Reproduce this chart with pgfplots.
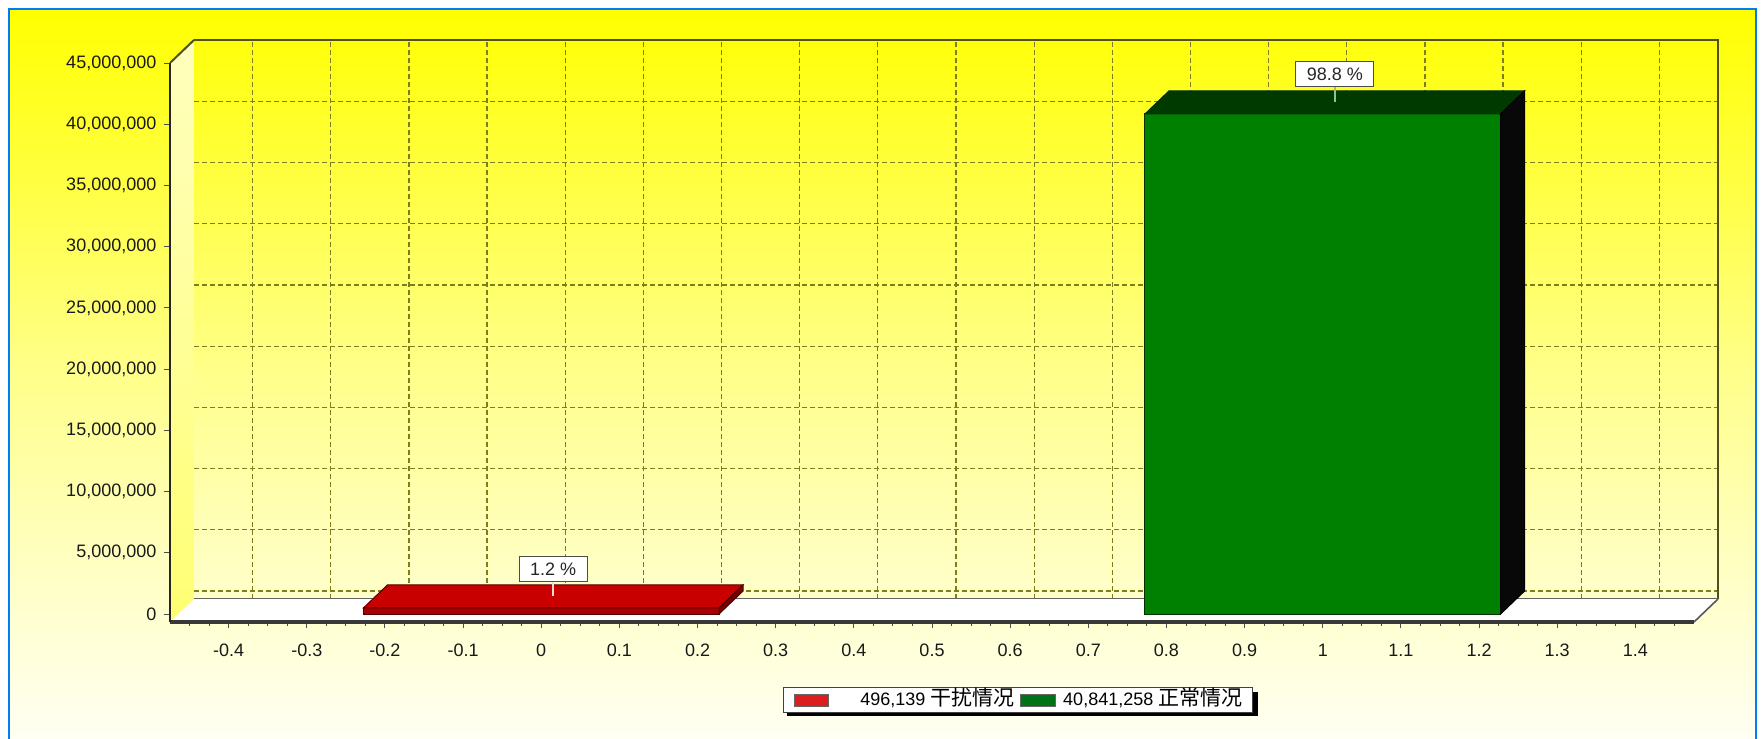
\documentclass[border=0pt]{standalone}
\usepackage{fontspec}
\setmainfont{Liberation Sans}
\newfontfamily\cjk{Noto Sans CJK SC}
\usepackage{pgfplots}
\pgfplotsset{compat=1.18}

\definecolor{gfront}{RGB}{0,128,0}
\definecolor{gtop}{RGB}{0,58,0}
\definecolor{gside}{RGB}{8,8,8}
\definecolor{rfront}{RGB}{170,0,0}
\definecolor{rtop}{RGB}{200,0,0}
\definecolor{rside}{RGB}{120,0,0}
\definecolor{legred}{RGB}{220,30,30}
\definecolor{leggreen}{RGB}{0,115,20}
\definecolor{gridc}{RGB}{125,125,25}
\definecolor{edgec}{RGB}{80,80,30}
\definecolor{frameblue}{RGB}{0,125,245}
\definecolor{bgmid}{RGB}{255,255,140}
\definecolor{bgbot}{RGB}{255,255,245}
\definecolor{walltop}{RGB}{255,255,190}
\definecolor{wallbot}{RGB}{255,255,115}
\definecolor{conred}{RGB}{255,215,215}
\definecolor{congreen}{RGB}{150,190,150}

\begin{document}
\begin{tikzpicture}[x=1pt,y=1pt]
\useasboundingbox (0,0) rectangle (881,369.5);
\fill[white] (0,0) rectangle (881,369.5);
\shade[top color=yellow, bottom color=bgbot, middle color=bgmid] (4.5,-3) rectangle (878,365);
\draw[frameblue, line width=1.4pt] (4.5,-5) -- (4.5,365) -- (878,365) -- (878,-5);
% legend shadow (legend box itself is drawn by the front axis)
\fill[black] (393.5,11.3) rectangle (628.8,23.5);

% back wall with grid
\begin{axis}[
  at={(97pt,70pt)}, anchor=south west,
  width=762pt, height=279.5pt, scale only axis,
  xmin=-0.475, xmax=1.475, ymin=-650000, ymax=45000000,
  xtick={-0.4,-0.3,-0.2,-0.1,0,0.1,0.2,0.3,0.4,0.5,0.6,0.7,0.8,0.9,1,1.1,1.2,1.3,1.4},
  ytick={0,5000000,10000000,15000000,20000000,25000000,30000000,35000000,40000000,45000000},
  xticklabels={}, yticklabels={},
  scaled ticks=false,
  major tick length=0pt,
  grid=major,
  major grid style={gridc, line width=0.6pt, dash pattern=on 2.5pt off 1.5pt},
  axis line style={draw=none},
  clip=false,
]
\draw[edgec, line width=1pt] (rel axis cs:0,1) -- (rel axis cs:1,1) -- (rel axis cs:1,0);
\draw[black!70, line width=0.8pt] (rel axis cs:0,0) -- (rel axis cs:1,0);
\end{axis}

% front axis with floor, wall and bars
\begin{axis}[
  at={(85pt,58.5pt)}, anchor=south west,
  width=762pt, height=279.5pt, scale only axis,
  xmin=-0.475, xmax=1.475, ymin=-650000, ymax=45000000,
  axis x line*=bottom, axis y line*=left,
  x axis line style={black!78, line width=2pt},
  y axis line style={black!85, line width=1.4pt},
  xtick={-0.4,-0.3,-0.2,-0.1,0,0.1,0.2,0.3,0.4,0.5,0.6,0.7,0.8,0.9,1,1.1,1.2,1.3,1.4},
  minor xtick={-0.45,-0.425,...,1.46},
  ytick={0,5000000,10000000,15000000,20000000,25000000,30000000,35000000,40000000,45000000},
  tick align=outside, major tick length=3pt, minor tick length=1.8pt,
  tick style={black!70, line width=0.5pt},
  scaled ticks=false,
  /pgf/number format/assume math mode=true,
  xticklabel style={yshift=-4.5pt, /pgf/number format/fixed, /pgf/number format/precision=1},
  yticklabel style={xshift=-0.3pt, /pgf/number format/fixed, /pgf/number format/precision=0, /pgf/number format/1000 sep={,}},
  ticklabel style={font=\fontsize{9}{10}\selectfont, text=black!90},
  axis on top,
  clip=false,
  legend style={at={(0.4022,-0.1163)}, anchor=north west, draw=black!75, line width=0.6pt,
    fill=white, inner xsep=5pt, inner ysep=1.5pt, font=\fontsize{9}{10}\selectfont,
    nodes={inner sep=0pt, text height=7.5pt, text depth=2pt}, column sep=0pt},
  legend columns=2, legend cell align=left,
]
% floor
\fill[white] (axis cs:-0.475,-650000) -- (axis cs:1.475,-650000) -- (axis cs:1.5057,1228260) -- (axis cs:-0.4443,1228260) -- cycle;
\draw[black!65, line width=0.8pt] (axis cs:1.475,-650000) -- (axis cs:1.5057,1228260);
% left wall
\shade[top color=walltop, bottom color=wallbot] (axis cs:-0.475,-650000) -- (axis cs:-0.4443,1228260) -- (axis cs:-0.4443,46878260) -- (axis cs:-0.475,45000000) -- cycle;
\draw[edgec, line width=1pt] (axis cs:-0.475,45000000) -- (axis cs:-0.4443,46878260);

% red bar (496,139)
\addplot[fill=rfront, draw=rside!70!black, line width=0.5pt, forget plot] coordinates {(-0.2275,0) (-0.2275,496139) (0.2275,496139) (0.2275,0)} -- cycle;
\addplot[fill=rtop, draw=rside!70!black, line width=0.5pt, forget plot] coordinates {(-0.2275,496139) (-0.1968,2374399) (0.2582,2374399) (0.2275,496139)} -- cycle;
\addplot[fill=rside, draw=rside!70!black, line width=0.5pt, forget plot] coordinates {(0.2275,0) (0.2582,1878260) (0.2582,2374399) (0.2275,496139)} -- cycle;

% green bar (40,841,258)
\addplot[fill=gfront, draw=black!80!green, line width=0.5pt, forget plot] coordinates {(0.7725,0) (0.7725,40841258) (1.2275,40841258) (1.2275,0)} -- cycle;
\addplot[fill=gtop, draw=black!80!green, line width=0.5pt, forget plot] coordinates {(0.7725,40841258) (0.8032,42719518) (1.2582,42719518) (1.2275,40841258)} -- cycle;
\addplot[fill=gside, draw=black, line width=0.5pt, forget plot] coordinates {(1.2275,0) (1.2582,1878260) (1.2582,42719518) (1.2275,40841258)} -- cycle;

% value labels
\draw[conred, line width=0.8pt] (axis cs:0.01535,1435269) -- ++(0pt,7pt);
\node[draw=black!70, fill=white, line width=0.5pt, inner xsep=5.5pt, inner ysep=2.75pt, text height=6.6pt, text depth=0.4pt, anchor=south, font=\fontsize{9}{10}\selectfont, text=black!85, yshift=7pt] at (axis cs:0.01535,1435269) {1.2 \%};
\draw[congreen, line width=0.8pt] (axis cs:1.01535,41780388) -- ++(0pt,7.5pt);
\node[draw=black!70, fill=white, line width=0.5pt, inner xsep=5.5pt, inner ysep=2.75pt, text height=6.6pt, text depth=0.4pt, anchor=south, font=\fontsize{9}{10}\selectfont, text=black!85, yshift=7.5pt] at (axis cs:1.01535,41780388) {98.8 \%};

% legend
\addlegendimage{legend image code/.code={\draw[fill=legred, draw=black!60, line width=0.4pt] (0pt,-3pt) rectangle (17pt,3pt);}}
\addlegendentry{\hspace*{16pt}496,139 {\cjk\fontsize{10.5}{11}\selectfont 干扰情况}\hspace*{3pt}}
\addlegendimage{legend image code/.code={\draw[fill=leggreen, draw=black!60, line width=0.4pt] (0pt,-3pt) rectangle (17.5pt,3pt);}}
\addlegendentry{\hspace*{3.5pt}40,841,258 {\cjk\fontsize{10.5}{11}\selectfont 正常情况}}
\end{axis}
\end{tikzpicture}
\end{document}
